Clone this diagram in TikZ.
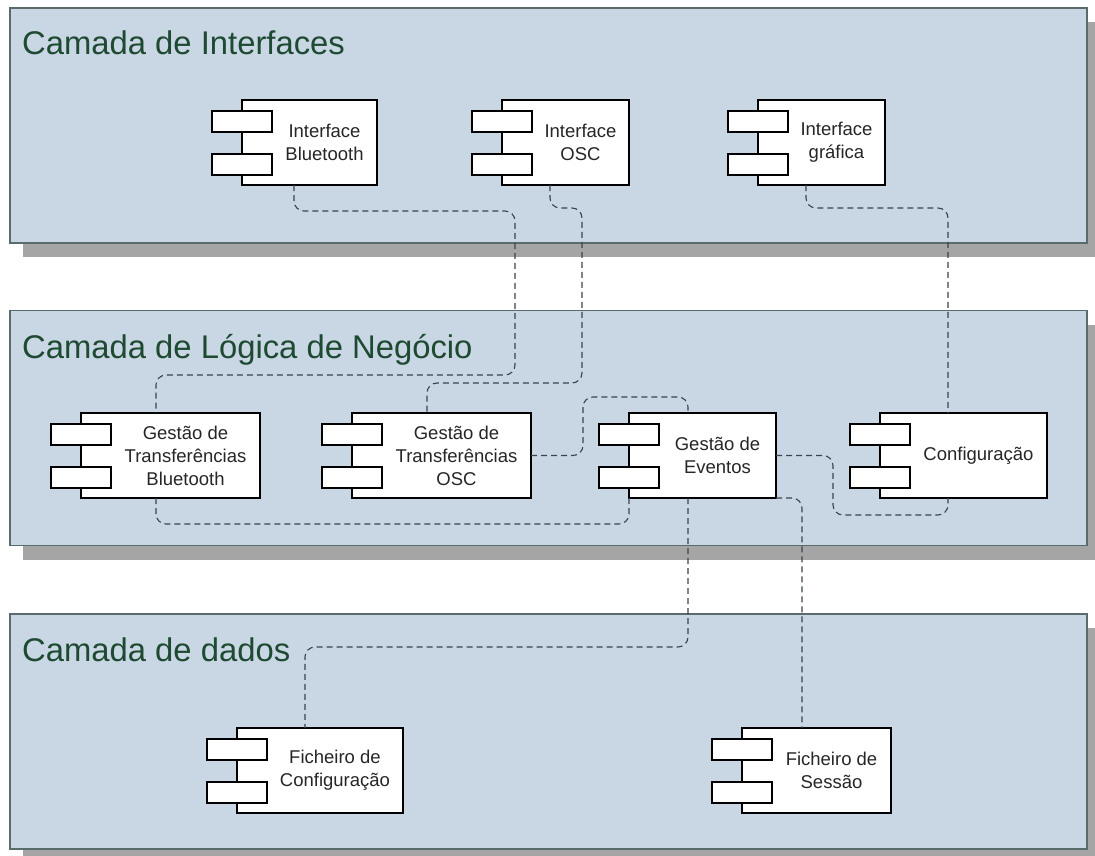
\documentclass[tikz,border=0pt]{standalone}
\usepackage{fontspec}
\setmainfont{Liberation Sans}
\usetikzlibrary{shadows}
\definecolor{panelfill}{RGB}{201,214,228}
\definecolor{panelline}{RGB}{88,108,108}
\definecolor{shadowgray}{RGB}{165,165,165}
\definecolor{titlegreen}{RGB}{30,74,50}
\definecolor{connline}{RGB}{58,68,80}
\tikzset{
  panel/.style={draw=panelline, line width=1.2pt, fill=panelfill, outer sep=0pt,
    minimum width=1077pt, minimum height=235pt, inner sep=0pt,
    drop shadow={shadow xshift=13pt, shadow yshift=-14pt, fill=shadowgray, opacity=1}},
  ptitle/.style={anchor=base west, text=titlegreen, font=\fontsize{32.8}{38}\selectfont, inner sep=0pt},
  cbox/.style={draw=black, line width=1.3pt, fill=white, outer sep=0pt, inner sep=0pt},
  cport/.style={draw=black, line width=1.3pt, fill=white, outer sep=0pt, inner sep=0pt,
    minimum width=60pt, minimum height=21pt},
  ctext/.style={align=center, text=black!85, font=\fontsize{18.5}{23}\selectfont, inner sep=0pt},
  conn/.style={draw=connline, line width=1.1pt, dash pattern=on 6pt off 4pt, rounded corners=10pt}
}
\newcommand\umlcomp[6]{%
  \node[cbox, minimum width={#3-#2}, minimum height={#5-#4}] (#1) at ({(#2+#3)/2},{(#4+#5)/2}) {};
  \node[cport] (#1-a) at (#2,{#4+21.5}) {};
  \node[cport] (#1-b) at (#2,{#4+64.5}) {};
  \node[ctext] (#1-t) at ({(#2+30+#3)/2},{(#4+#5)/2}) {#6};
}
\begin{document}
\begin{tikzpicture}[x=1pt,y=-1pt]
\useasboundingbox (0,0) rectangle (1095,856);
% panels
\node[panel] (p1) at (548.5,125.5) {};
\node[panel] (p2) at (548.5,428) {};
\node[panel] (p3) at (548.5,731.5) {};
\node[ptitle] (t1) at (22,55) {Camada de Interfaces};
\node[ptitle] (t2) at (22,358) {Camada de Lógica de Negócio};
\node[ptitle] (t3) at (22,661) {Camada de dados};
% components
\umlcomp{ib}{242}{377}{100}{185}{Interface\\Bluetooth}
\umlcomp{io}{502}{629}{100}{185}{Interface\\OSC}
\umlcomp{ig}{758}{885}{100}{185}{Interface\\gráfica}
\umlcomp{gtb}{81}{260}{413}{498}{Gestão de\\Transferências\\Bluetooth}
\umlcomp{gto}{352}{531}{413}{498}{Gestão de\\Transferências\\OSC}
\umlcomp{gev}{629}{776}{413}{498}{Gestão de\\Eventos}
\umlcomp{cfg}{880}{1047}{413}{498}{Configuração}
\umlcomp{fc}{237}{403}{728}{813}{Ficheiro de\\Configuração}
\umlcomp{fs}{742}{891}{728}{813}{Ficheiro de\\Sessão}
% connectors
\draw[conn] ([xshift=-15.5pt]ib.south) -- (294,211) -- (515,211) -- (515,375) -- (156,375) -- ([xshift=-14.5pt]gtb.north);
\draw[conn] ([xshift=-15.5pt]io.south) -- (550,208) -- (582,208) -- (582,383) -- (427,383) -- ([xshift=-14.5pt]gto.north);
\draw[conn] ([xshift=-15.5pt]ig.south) -- (806,208) -- (948,208) -- ([xshift=-15.5pt]cfg.north);
\draw[conn] (gto.east) -- (583,455.5) -- (583,397) -- (688,397) -- ([xshift=-14.5pt]gev.north);
\draw[conn] ([xshift=-14.5pt]gtb.south) -- (156,524) -- (629,524) -- (gev.south west);
\draw[conn] (gev.east) -- (833,455.5) -- (833,515) -- (948,515) -- ([xshift=-15.5pt]cfg.south);
\draw[conn] ([xshift=-14.5pt]gev.south) -- (688,647) -- (305,647) -- ([xshift=-15pt]fc.north);
\draw[conn] (gev.south east) -- (802,498) -- ([xshift=-14.5pt]fs.north);
\end{tikzpicture}
\end{document}
